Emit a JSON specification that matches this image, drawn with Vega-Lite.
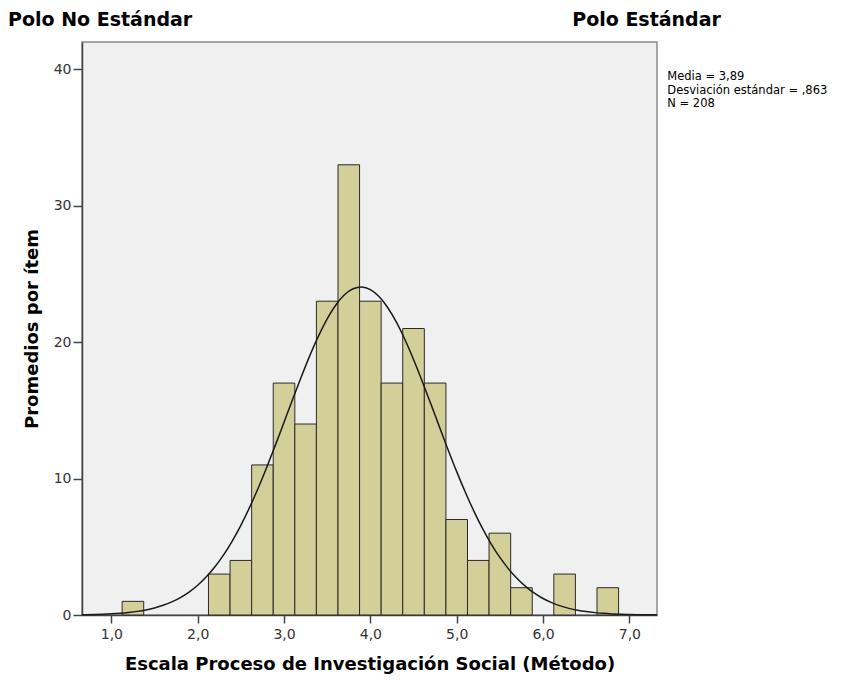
{
  "$schema": "https://vega.github.io/schema/vega-lite/v6.json",
  "width": 575,
  "height": 573,
  "autosize": {"type": "none"},
  "padding": {"left": 82, "top": 42, "right": 197, "bottom": 68},
  "background": "#ffffff",
  "config": {
    "view": {"fill": "#f0f0f0", "stroke": "#8a8a8a", "strokeWidth": 1.5},
    "font": "DejaVu Sans"
  },
  "datasets": {
    "bins": [
      {"lo": 1.125, "hi": 1.375, "count": 1},
      {"lo": 2.125, "hi": 2.375, "count": 3},
      {"lo": 2.375, "hi": 2.625, "count": 4},
      {"lo": 2.625, "hi": 2.875, "count": 11},
      {"lo": 2.875, "hi": 3.125, "count": 17},
      {"lo": 3.125, "hi": 3.375, "count": 14},
      {"lo": 3.375, "hi": 3.625, "count": 23},
      {"lo": 3.625, "hi": 3.875, "count": 33},
      {"lo": 3.875, "hi": 4.125, "count": 23},
      {"lo": 4.125, "hi": 4.375, "count": 17},
      {"lo": 4.375, "hi": 4.625, "count": 21},
      {"lo": 4.625, "hi": 4.875, "count": 17},
      {"lo": 4.875, "hi": 5.125, "count": 7},
      {"lo": 5.125, "hi": 5.375, "count": 4},
      {"lo": 5.375, "hi": 5.625, "count": 6},
      {"lo": 5.625, "hi": 5.875, "count": 2},
      {"lo": 6.125, "hi": 6.375, "count": 3},
      {"lo": 6.625, "hi": 6.875, "count": 2}
    ],
    "curve": [
      {"x": 0.66, "y": 0.022}, {"x": 0.7, "y": 0.026}, {"x": 0.8, "y": 0.040}, {"x": 0.9, "y": 0.059},
      {"x": 1.0, "y": 0.088}, {"x": 1.1, "y": 0.129}, {"x": 1.2, "y": 0.187}, {"x": 1.3, "y": 0.266},
      {"x": 1.4, "y": 0.374}, {"x": 1.5, "y": 0.519}, {"x": 1.6, "y": 0.711}, {"x": 1.7, "y": 0.961},
      {"x": 1.8, "y": 1.280}, {"x": 1.9, "y": 1.684}, {"x": 2.0, "y": 2.185}, {"x": 2.1, "y": 2.798},
      {"x": 2.2, "y": 3.535}, {"x": 2.3, "y": 4.404}, {"x": 2.4, "y": 5.416}, {"x": 2.5, "y": 6.572},
      {"x": 2.6, "y": 7.869}, {"x": 2.7, "y": 9.291}, {"x": 2.8, "y": 10.83}, {"x": 2.9, "y": 12.45},
      {"x": 3.0, "y": 14.13}, {"x": 3.1, "y": 15.81}, {"x": 3.2, "y": 17.46}, {"x": 3.3, "y": 19.03},
      {"x": 3.4, "y": 20.46}, {"x": 3.5, "y": 21.71}, {"x": 3.6, "y": 22.72}, {"x": 3.7, "y": 23.47},
      {"x": 3.8, "y": 23.91}, {"x": 3.9, "y": 24.04}, {"x": 4.0, "y": 23.85}, {"x": 4.1, "y": 23.34},
      {"x": 4.2, "y": 22.54}, {"x": 4.3, "y": 21.48}, {"x": 4.4, "y": 20.19}, {"x": 4.5, "y": 18.73},
      {"x": 4.6, "y": 17.14}, {"x": 4.7, "y": 15.48}, {"x": 4.8, "y": 13.79}, {"x": 4.9, "y": 12.12},
      {"x": 5.0, "y": 10.51}, {"x": 5.1, "y": 9.00}, {"x": 5.2, "y": 7.60}, {"x": 5.3, "y": 6.33},
      {"x": 5.4, "y": 5.20}, {"x": 5.5, "y": 4.22}, {"x": 5.6, "y": 3.38}, {"x": 5.7, "y": 2.67},
      {"x": 5.8, "y": 2.08}, {"x": 5.9, "y": 1.60}, {"x": 6.0, "y": 1.21}, {"x": 6.1, "y": 0.906},
      {"x": 6.2, "y": 0.669}, {"x": 6.3, "y": 0.487}, {"x": 6.4, "y": 0.350}, {"x": 6.5, "y": 0.248},
      {"x": 6.6, "y": 0.174}, {"x": 6.7, "y": 0.120}, {"x": 6.8, "y": 0.082}, {"x": 6.9, "y": 0.055},
      {"x": 7.0, "y": 0.036}, {"x": 7.1, "y": 0.024}, {"x": 7.2, "y": 0.015}, {"x": 7.3, "y": 0.010},
      {"x": 7.32, "y": 0.009}
    ]
  },
  "layer": [
    {
      "data": {"name": "bins"},
      "mark": {"type": "rect", "fill": "#d3cf98", "stroke": "#2a2a2a", "strokeWidth": 1},
      "encoding": {
        "x": {
          "field": "lo", "type": "quantitative",
          "scale": {"domain": [0.66, 7.32], "nice": false, "zero": false},
          "axis": {
            "values": [1, 2, 3, 4, 5, 6, 7],
            "labelExpr": "replace(format(datum.value, '.1f'), '.', ',')",
            "title": "Escala Proceso de Investigación Social (Método)",
            "titleFont": "DejaVu Sans", "titleFontSize": 18, "titleFontWeight": "bold", "titleColor": "#000000",
            "titlePadding": 14,
            "labelFont": "DejaVu Sans", "labelFontSize": 14, "labelColor": "#333333", "labelPadding": 4,
            "tickSize": 8, "tickColor": "#444444", "tickWidth": 1.5,
            "domainColor": "#444444", "domainWidth": 1.5, "grid": false
          }
        },
        "x2": {"field": "hi"},
        "y": {
          "field": "count", "type": "quantitative",
          "scale": {"domain": [0, 42], "nice": false},
          "axis": {
            "values": [0, 10, 20, 30, 40],
            "title": "Promedios por ítem",
            "titleFont": "DejaVu Sans", "titleFontSize": 18, "titleFontWeight": "bold", "titleColor": "#000000",
            "titlePadding": 12,
            "labelFont": "DejaVu Sans", "labelFontSize": 14, "labelColor": "#333333", "labelPadding": 2,
            "tickSize": 9, "tickColor": "#444444", "tickWidth": 1.5,
            "domainColor": "#444444", "domainWidth": 1.5, "grid": false
          }
        },
        "y2": {"datum": 0}
      }
    },
    {
      "data": {"name": "curve"},
      "mark": {"type": "line", "stroke": "#1a1a1a", "strokeWidth": 1.5, "interpolate": "monotone"},
      "encoding": {
        "x": {"field": "x", "type": "quantitative"},
        "y": {"field": "y", "type": "quantitative"}
      }
    },
    {
      "data": {"values": [{}]},
      "mark": {"type": "text", "text": "Polo No Estándar", "font": "DejaVu Sans", "fontSize": 19, "fontWeight": "bold", "align": "left", "baseline": "alphabetic", "color": "#000000"},
      "encoding": {"x": {"datum": -0.1975, "type": "quantitative"}, "y": {"datum": 43.15, "type": "quantitative"}}
    },
    {
      "data": {"values": [{}]},
      "mark": {"type": "text", "text": "Polo Estándar", "font": "DejaVu Sans", "fontSize": 19, "fontWeight": "bold", "align": "left", "baseline": "alphabetic", "color": "#000000"},
      "encoding": {"x": {"datum": 6.338, "type": "quantitative"}, "y": {"datum": 43.15, "type": "quantitative"}}
    },
    {
      "data": {"values": [{}]},
      "mark": {"type": "text", "text": ["Media = 3,89", "Desviación estándar = ,863", "N = 208"], "font": "DejaVu Sans", "fontSize": 11.5, "lineHeight": 13.5, "align": "left", "baseline": "alphabetic", "color": "#000000"},
      "encoding": {"x": {"datum": 7.439, "type": "quantitative"}, "y": {"datum": 39.21, "type": "quantitative"}}
    }
  ]
}
